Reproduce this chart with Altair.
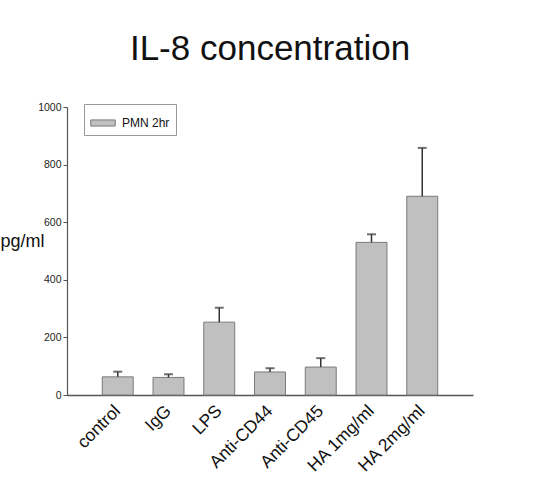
import altair as alt
import pandas as pd

categories = ["control", "IgG", "LPS", "Anti-CD44", "Anti-CD45", "HA 1mg/ml", "HA 2mg/ml"]
values = [63, 61, 253, 80, 97, 530, 690]
errors = [18, 11, 50, 13, 31, 28, 168]
series_name = "PMN 2hr"
y_ticks = [0, 200, 400, 600, 800, 1000]

df = pd.DataFrame({
    "cat": categories,
    "val": values,
    "top": [v + e for v, e in zip(values, errors)],
    "series": [series_name] * len(categories),
})

FONT = "Liberation Sans"

x_enc = alt.X(
    "cat:N",
    sort=categories,
    scale=alt.Scale(paddingInner=0.39, paddingOuter=0.695),
    axis=alt.Axis(
        title=None, ticks=False, labelAngle=-45, labelFontSize=17.5,
        labelFont=FONT, labelColor="#111", domainColor="#555", domainWidth=1.5,
        labelPadding=13, labelAlign="right", labelBaseline="middle",
    ),
)

bars = alt.Chart(df).mark_bar(stroke="#7a7a7a", strokeWidth=1).encode(
    x=x_enc,
    y=alt.Y(
        "val:Q",
        scale=alt.Scale(domain=[0, 1000], nice=False),
        axis=alt.Axis(
            values=y_ticks, format="d", title="pg/ml", titleAngle=0, titleAlign="left",
            titleBaseline="alphabetic", titleX=-67, titleY=139,
            titleFontSize=18, titleFont=FONT, titleFontWeight="normal", titleColor="#111",
            labelFontSize=10.5, labelFont=FONT, labelColor="#222",
            domainColor="#555", tickColor="#555", tickSize=4, labelPadding=2,
            grid=False, domainWidth=1.2,
        ),
    ),
    fill=alt.Fill(
        "series:N",
        scale=alt.Scale(range=["#c0c0c0"]),
        legend=alt.Legend(
            title=None, orient="none", legendX=17, legendY=-3,
            strokeColor="#999", padding=6, cornerRadius=0,
            symbolType="M-1,-0.25H1V0.25H-1Z", symbolSize=600,
            symbolStrokeColor="#7a7a7a", symbolStrokeWidth=1, symbolFillColor="#c0c0c0",
            labelFontSize=12, labelFont=FONT, labelColor="#111", labelOffset=6,
        ),
    ),
)

rules = alt.Chart(df).mark_rule(color="#333", strokeWidth=1.5).encode(
    x=alt.X("cat:N", sort=categories),
    y="val:Q",
    y2="top:Q",
)

caps = alt.Chart(df).mark_tick(color="#333", size=9, thickness=2).encode(
    x=alt.X("cat:N", sort=categories),
    y="top:Q",
)

chart = alt.layer(bars, rules, caps).properties(
    width=406,
    height=288,
    title=alt.TitleParams(
        "IL-8 concentration", fontSize=35, font=FONT, fontWeight="normal",
        anchor="middle", offset=35, color="#111",
    ),
    padding={"left": 67, "top": 107, "right": 62, "bottom": 104},
    autosize=alt.AutoSizeParams(type="none"),
).configure(
    background="white",
    view=alt.ViewConfig(strokeWidth=0, stroke="transparent"),
)

chart.save("out.html", embed_options={"renderer": "svg", "actions": False})
